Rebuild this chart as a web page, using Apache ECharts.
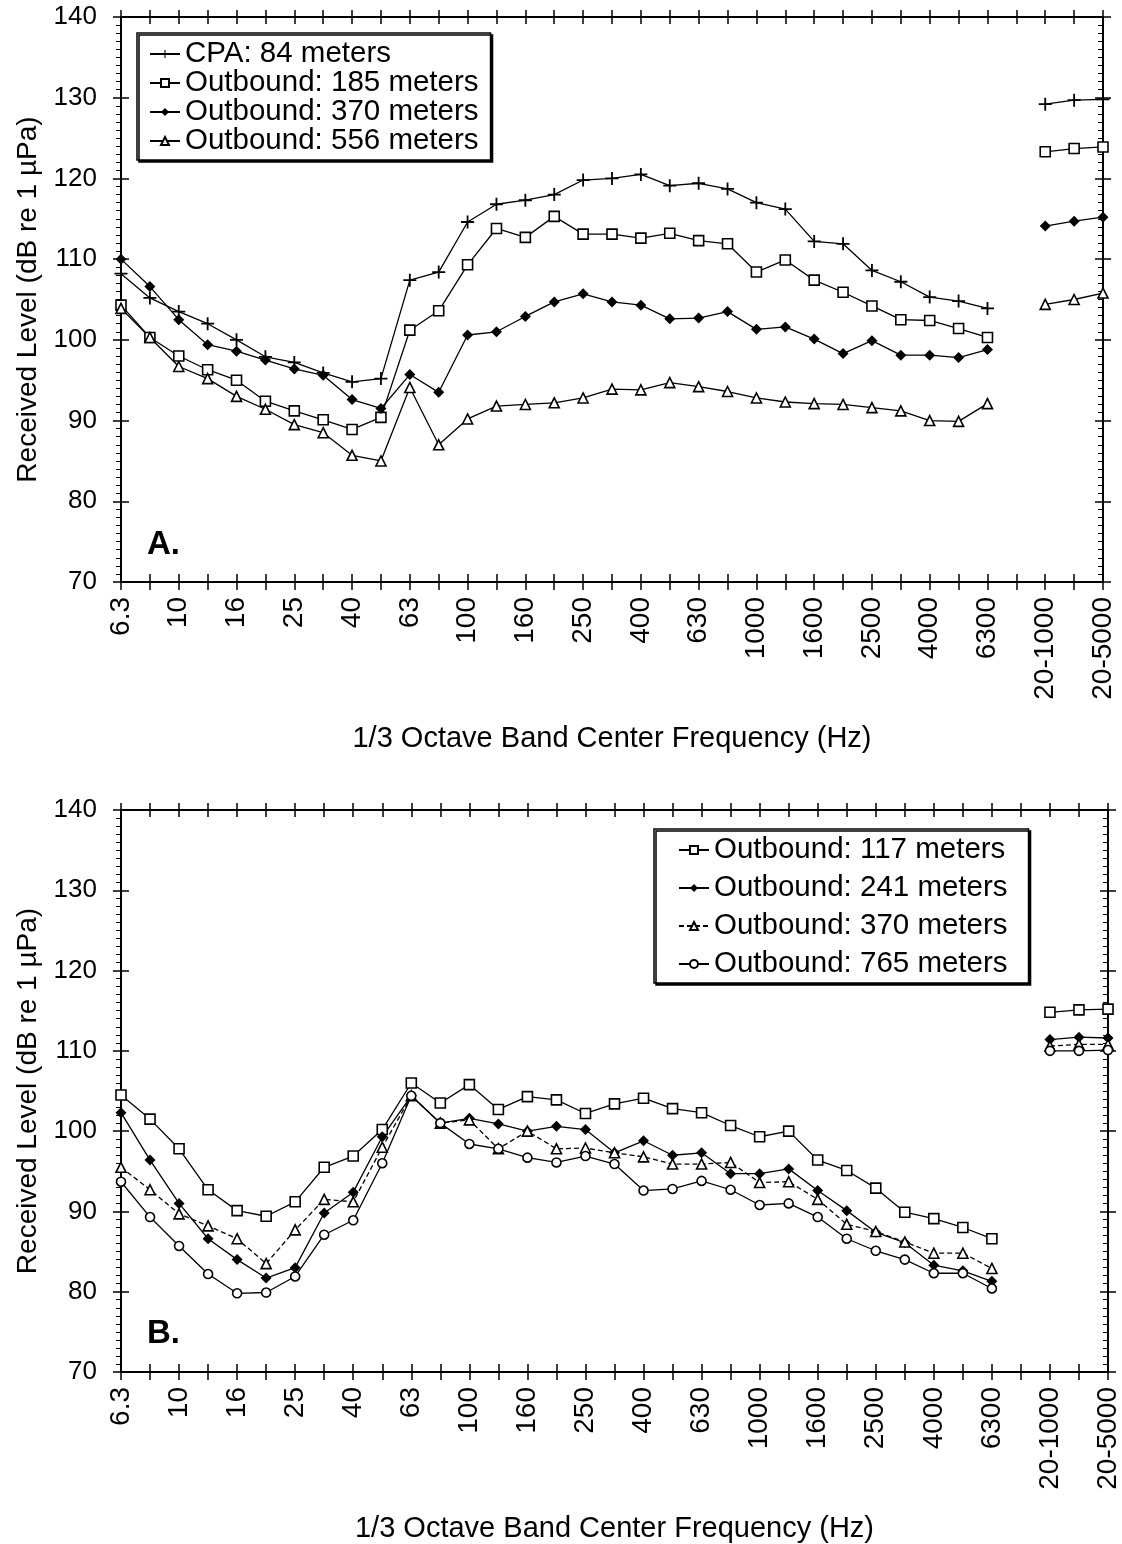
<!DOCTYPE html>
<html><head><meta charset="utf-8">
<script src="https://cdn.jsdelivr.net/npm/echarts@6/dist/echarts.min.js"></script>
<style>html,body{margin:0;padding:0;background:#fff}#c{width:1122px;height:1544px}</style>
</head><body><div id="c"></div>
<script>
// ---- data ----
const categories = ['6.3','8','10','12.5','16','20','25','31.5','40','50','63','80','100','125','160','200','250','315','400','500','630','800','1000','1250','1600','2000','2500','3150','4000','5000','6300','','20-1000','','20-5000'];
const yTickValues = [70, 80, 90, 100, 110, 120, 130, 140];
const xAxisTitle = '1/3 Octave Band Center Frequency (Hz)';
const yAxisTitle = 'Received Level (dB re 1 µPa)';

// Panel A
const namesA = ['CPA: 84 meters', 'Outbound: 185 meters', 'Outbound: 370 meters', 'Outbound: 556 meters'];
const cpa84 = [108.2,105.2,103.5,102.0,100.0,97.9,97.2,95.9,94.8,95.2,107.4,108.4,114.6,116.8,117.3,118.0,119.8,120.0,120.5,119.1,119.4,118.7,117.0,116.2,112.2,111.9,108.6,107.2,105.3,104.8,103.9,null,129.2,129.7,129.8];
const out185 = [104.3,100.3,98.0,96.3,95.0,92.4,91.2,90.1,88.9,90.4,101.2,103.6,109.3,113.8,112.7,115.3,113.1,113.1,112.6,113.2,112.3,111.9,108.4,109.9,107.4,105.9,104.2,102.5,102.4,101.4,100.3,null,123.3,123.7,123.9];
const out370A = [110.0,106.6,102.5,99.4,98.6,97.5,96.4,95.6,92.6,91.5,95.7,93.5,100.6,101.0,102.9,104.7,105.7,104.7,104.3,102.6,102.7,103.5,101.3,101.6,100.1,98.3,99.9,98.1,98.1,97.8,98.8,null,114.1,114.7,115.2];
const out556 = [103.9,100.3,96.7,95.2,93.0,91.4,89.5,88.5,85.7,85.0,94.1,87.0,90.2,91.8,92.0,92.2,92.8,93.9,93.8,94.7,94.2,93.6,92.8,92.3,92.1,92.0,91.6,91.2,90.0,89.9,92.1,null,104.4,105.0,105.8];

// Panel B
const namesB = ['Outbound: 117 meters', 'Outbound: 241 meters', 'Outbound: 370 meters', 'Outbound: 765 meters'];
const out117 = [104.5,101.5,97.8,92.7,90.1,89.4,91.2,95.5,96.9,100.2,106.0,103.5,105.8,102.7,104.3,103.9,102.2,103.4,104.1,102.8,102.3,100.7,99.3,100.0,96.4,95.1,92.9,89.9,89.1,88.0,86.6,null,114.8,115.1,115.2];
const out241 = [102.3,96.4,91.0,86.6,84.0,81.7,83.0,89.8,92.4,99.3,104.4,101.0,101.6,100.9,100.0,100.6,100.2,97.3,98.8,97.0,97.3,94.7,94.7,95.3,92.6,90.1,87.4,86.1,83.3,82.6,81.3,null,111.4,111.7,111.6];
const out370B = [95.5,92.7,89.7,88.2,86.6,83.5,87.7,91.5,91.2,98.0,104.4,101.0,101.4,97.8,100.0,97.8,97.9,97.3,96.8,95.9,95.9,96.1,93.6,93.7,91.5,88.4,87.5,86.2,84.8,84.8,82.9,null,110.6,110.8,110.8];
const out765 = [93.7,89.3,85.7,82.2,79.8,79.9,81.9,87.1,88.9,96.0,104.4,101.0,98.4,97.8,96.7,96.1,96.9,95.9,92.6,92.8,93.8,92.7,90.8,91.0,89.3,86.6,85.1,84.0,82.3,82.3,80.4,null,110.0,110.0,110.1];

// ---- chart ----
const FONT = '"Liberation Sans", Arial, sans-serif';
const BLACK = '#000';
const B_SUFFIX = ' (B)';

function xAxes(g) {
  const common = {type: 'category', data: categories, boundaryGap: false, gridIndex: g,
    axisLine: {lineStyle: {color: BLACK, width: 2}}, splitLine: {show: false}};
  const tick = {interval: 0, length: 8, lineStyle: {color: BLACK, width: 1.5}};
  return [
    Object.assign({}, common, {position: 'bottom', axisTick: Object.assign({}, tick),
      axisLabel: {interval: 1, rotate: 90, margin: 15, fontSize: 28, color: BLACK, fontFamily: FONT},
      name: xAxisTitle, nameLocation: 'middle', nameGap: 142,
      nameTextStyle: {fontSize: 29, color: BLACK, fontFamily: FONT}}),
    Object.assign({}, common, {position: 'bottom', axisTick: Object.assign({}, tick, {inside: true}), axisLabel: {show: false}}),
    Object.assign({}, common, {position: 'top', axisTick: Object.assign({}, tick, {inside: true, length: 7}), axisLabel: {show: false}}),
    Object.assign({}, common, {position: 'top', axisTick: Object.assign({}, tick, {length: 7}), axisLabel: {show: false}})
  ];
}
function yAxes(g) {
  const common = {type: 'value', min: yTickValues[0], max: yTickValues[yTickValues.length - 1], interval: 10, gridIndex: g,
    axisLine: {show: true, lineStyle: {color: BLACK, width: 2}}, splitLine: {show: false}};
  const tick = {show: true, length: 8, lineStyle: {color: BLACK, width: 1.5}};
  const minor = {show: true, splitNumber: 10, length: 5, lineStyle: {color: BLACK, width: 1}};
  return [
    Object.assign({}, common, {position: 'left', axisTick: Object.assign({}, tick), minorTick: Object.assign({}, minor),
      axisLabel: {margin: 24, fontSize: 26, color: BLACK, fontFamily: FONT},
      name: yAxisTitle, nameLocation: 'middle', nameGap: 78,
      nameTextStyle: {fontSize: 28, color: BLACK, fontFamily: FONT}}),
    Object.assign({}, common, {position: 'left', axisTick: Object.assign({}, tick, {inside: true}), axisLabel: {show: false}}),
    Object.assign({}, common, {position: 'right', axisTick: Object.assign({}, tick, {inside: true}), minorTick: Object.assign({}, minor, {inside: true}), axisLabel: {show: false}}),
    Object.assign({}, common, {position: 'right', axisTick: Object.assign({}, tick), axisLabel: {show: false}})
  ];
}

const PLUS = 'path://M4.3,0H5.7V4.3H10V5.7H5.7V10H4.3V5.7H0V4.3H4.3Z';
function mk(name, data, g, symbol, size, hollow, dashed) {
  return {
    name: name, type: 'line', data: data, xAxisIndex: 4 * g, yAxisIndex: 4 * g,
    symbol: symbol, symbolSize: size, showAllSymbol: true, connectNulls: false,
    lineStyle: {color: BLACK, width: 1.3, type: dashed ? [5, 3] : 'solid'},
    itemStyle: hollow ? {color: '#fff', borderColor: BLACK, borderWidth: 1.6} : {color: BLACK, borderColor: BLACK, borderWidth: 0},
    emphasis: {disabled: true}, z: 3
  };
}

const series = [
  mk(namesA[0], cpa84, 0, PLUS, 13, false, false),
  mk(namesA[1], out185, 0, 'rect', 10, true, false),
  mk(namesA[2], out370A, 0, 'diamond', 11, false, false),
  mk(namesA[3], out556, 0, 'triangle', 10, true, false),
  mk(namesB[0], out117, 1, 'rect', 10, true, false),
  mk(namesB[1], out241, 1, 'diamond', 11, false, false),
  mk(namesB[2] + B_SUFFIX, out370B, 1, 'triangle', 10, true, true),
  mk(namesB[3], out765, 1, 'circle', 9, true, false)
];

const legendCommon = {
  orient: 'vertical', selectedMode: false, backgroundColor: '#fff',
  borderColor: BLACK, borderWidth: 1.5, borderRadius: 0,
  shadowColor: BLACK, shadowOffsetX: 2, shadowOffsetY: 2, shadowBlur: 0,
  itemWidth: 30, itemHeight: 10,
  textStyle: {fontSize: 29.5, color: BLACK, fontFamily: FONT}
};

const option = {
  animation: false,
  backgroundColor: '#fff',
  textStyle: {fontFamily: FONT},
  title: [
    {text: 'A.', left: 142, top: 523, textStyle: {fontSize: 33, fontWeight: 'bold', color: BLACK, fontFamily: FONT}},
    {text: 'B.', left: 142, top: 1312, textStyle: {fontSize: 33, fontWeight: 'bold', color: BLACK, fontFamily: FONT}}
  ],
  grid: [
    {left: 121, right: 19, top: 17, height: 565},
    {left: 121, right: 7, top: 810, height: 563}
  ],
  xAxis: xAxes(0).concat(xAxes(1)),
  yAxis: yAxes(0).concat(yAxes(1)),
  legend: [
    Object.assign({}, legendCommon, {data: namesA, left: 137, top: 33, itemGap: -1, padding: [6, 12, 4, 12],
      textStyle: Object.assign({}, legendCommon.textStyle, {lineHeight: 29})}),
    Object.assign({}, legendCommon, {data: [namesB[0], namesB[1], namesB[2] + B_SUFFIX, namesB[3]],
      left: 654, top: 829, itemGap: 8, padding: [6, 21, 4, 24],
      formatter: function (n) { return n.replace(B_SUFFIX, ''); },
      textStyle: Object.assign({}, legendCommon.textStyle, {lineHeight: 30})})
  ],
  series: series
};

const chart = echarts.init(document.getElementById('c'), null, {renderer: 'canvas'});
chart.setOption(option);
</script>
</body></html>
